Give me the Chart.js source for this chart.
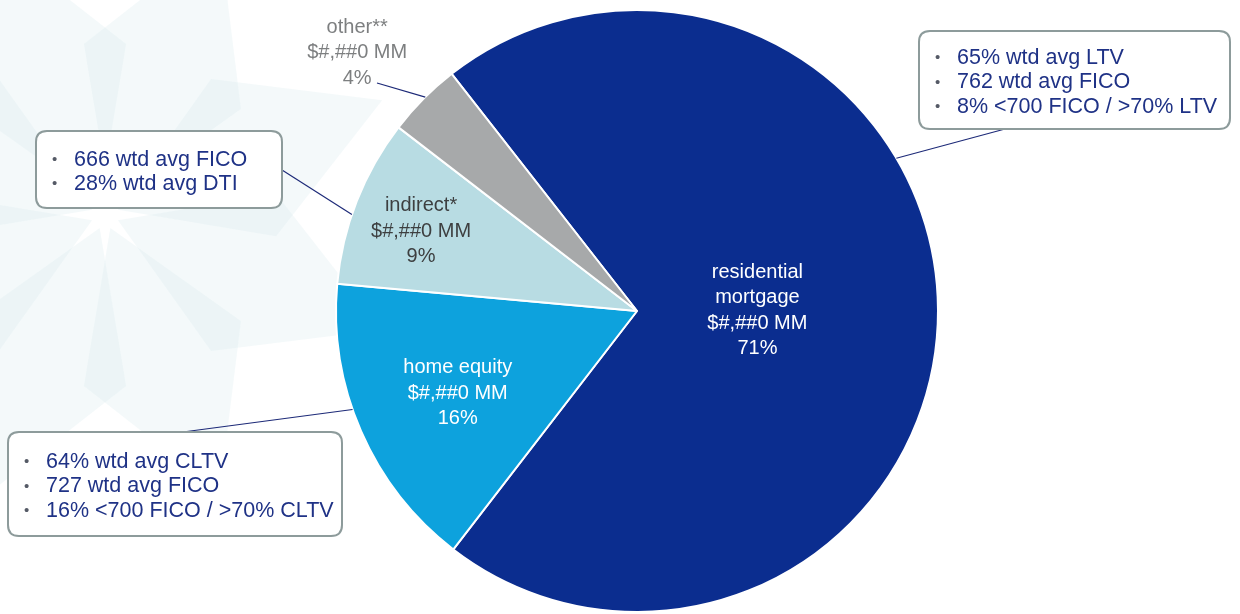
<!DOCTYPE html>
<html>
<head>
<meta charset="utf-8">
<script src="https://cdn.jsdelivr.net/npm/chart.js@4/dist/chart.umd.min.js"></script>
<style>
  html, body { margin: 0; padding: 0; background: #ffffff; }
  #wrap { width: 1240px; height: 614px; position: relative; }
</style>
</head>
<body>
<div id="wrap"><canvas id="chart-cartera" width="1240" height="614"></canvas></div>
<script>
// portfolio mix
const categorias = ['residential mortgage', 'home equity', 'indirect*', 'other**'];
const nombresLineas = [['residential', 'mortgage'], ['home equity'], ['indirect*'], ['other**']];
const montos = ['$#,##0 MM', '$#,##0 MM', '$#,##0 MM', '$#,##0 MM'];
const porcentajes = [71, 16, 9, 4];

// notes shown in the callout boxes
const notasResidencial = ['65% wtd avg LTV', '762 wtd avg FICO', '8% <700 FICO / >70% LTV'];
const notasHomeEquity = ['64% wtd avg CLTV', '727 wtd avg FICO', '16% <700 FICO / >70% CLTV'];
const notasIndirect = ['666 wtd avg FICO', '28% wtd avg DTI'];

const colores = ['#0b2d8f', '#0da2dd', '#b8dce3', '#a7a9aa'];
const coloresTexto = ['#ffffff', '#ffffff', '#3d3f40', '#7d7f80'];
const fuente = '"Liberation Sans", Arial, sans-serif';

// label placement per slice: distance (fraction of radius) and angle shift in degrees
const posEtiqueta = [
    { r: 0.40, giro: 0 },
    { r: 0.655, giro: -1 },
    { r: 0.765, giro: -1.1 },
    { r: 1.265, giro: -2.1 }
];

// callout boxes: slice index, box rect, where the leader leaves the box, angle on the rim
const cajas = [
    { idx: 0, x: 919, y: 31, w: 311, h: 98, notas: notasResidencial, sale: [1005, 129], angulo: -30.5 },
    { idx: 1, x: 8, y: 432, w: 334, h: 104, notas: notasHomeEquity, sale: [183, 432], angulo: 160.9 },
    { idx: 2, x: 36, y: 131, w: 246, h: 77, notas: notasIndirect, sale: [282, 170], angulo: 198.7 }
];

function puntoBorde(arc, grados) {
    const a = grados * Math.PI / 180;
    return [arc.x + Math.cos(a) * arc.outerRadius, arc.y + Math.sin(a) * arc.outerRadius];
}

function cajaRedonda(ctx, x, y, w, h, r) {
    ctx.beginPath();
    ctx.moveTo(x + r, y);
    ctx.lineTo(x + w - r, y);
    ctx.quadraticCurveTo(x + w, y, x + w, y + r);
    ctx.lineTo(x + w, y + h - r);
    ctx.quadraticCurveTo(x + w, y + h, x + w - r, y + h);
    ctx.lineTo(x + r, y + h);
    ctx.quadraticCurveTo(x, y + h, x, y + h - r);
    ctx.lineTo(x, y + r);
    ctx.quadraticCurveTo(x, y, x + r, y);
    ctx.closePath();
}

// faint star watermark on the left
const fondoPlugin = {
    id: 'fondo',
    beforeDraw(chart) {
        const ctx = chart.ctx;
        const cx = 105, cy = 215;
        ctx.save();
        ctx.fillStyle = 'rgba(214, 232, 238, 0.28)';
        for (let i = 0; i < 8; i++) {
            const a = i * Math.PI / 4 + Math.PI / 8;
            const largo = 300, ancho = 85;
            const ux = Math.cos(a), uy = Math.sin(a);
            const px = -uy, py = ux;
            ctx.beginPath();
            ctx.moveTo(cx + ux * 14, cy + uy * 14);
            ctx.lineTo(cx + ux * largo * 0.5 + px * ancho, cy + uy * largo * 0.5 + py * ancho);
            ctx.lineTo(cx + ux * largo, cy + uy * largo);
            ctx.lineTo(cx + ux * largo * 0.5 - px * ancho, cy + uy * largo * 0.5 - py * ancho);
            ctx.closePath();
            ctx.fill();
        }
        ctx.restore();
    }
};

const etiquetasPlugin = {
    id: 'etiquetas',
    afterDatasetsDraw(chart) {
        const ctx = chart.ctx;
        const arcs = chart.getDatasetMeta(0).data;
        ctx.save();

        // leader lines
        ctx.strokeStyle = '#1d2a78';
        ctx.lineWidth = 1.2;
        cajas.forEach(c => {
            const p = puntoBorde(arcs[c.idx], c.angulo);
            ctx.beginPath();
            ctx.moveTo(c.sale[0], c.sale[1]);
            ctx.lineTo(p[0], p[1]);
            ctx.stroke();
        });
        const pOtro = puntoBorde(arcs[3], 225.3);
        ctx.beginPath();
        ctx.moveTo(377, 83);
        ctx.lineTo(pOtro[0], pOtro[1]);
        ctx.stroke();

        // slice labels
        ctx.textAlign = 'center';
        ctx.textBaseline = 'middle';
        ctx.font = '20px ' + fuente;
        arcs.forEach((arc, i) => {
            const mid = (arc.startAngle + arc.endAngle) / 2 + posEtiqueta[i].giro * Math.PI / 180;
            const dist = arc.outerRadius * posEtiqueta[i].r;
            const x = arc.x + Math.cos(mid) * dist;
            const y = arc.y + Math.sin(mid) * dist;
            const lineas = [...nombresLineas[i], montos[i], porcentajes[i] + '%'];
            const alto = 25.5;
            const y0 = y - (lineas.length - 1) * alto / 2;
            ctx.fillStyle = coloresTexto[i];
            lineas.forEach((t, k) => ctx.fillText(t, x, y0 + k * alto));
        });

        // callout boxes
        cajas.forEach(c => {
            cajaRedonda(ctx, c.x, c.y, c.w, c.h, 11);
            ctx.fillStyle = '#ffffff';
            ctx.fill();
            ctx.strokeStyle = '#8d9b9b';
            ctx.lineWidth = 2;
            ctx.stroke();
            ctx.textAlign = 'left';
            const alto = 24.5;
            const y0 = c.y + c.h / 2 + 2.5 - (c.notas.length - 1) * alto / 2;
            c.notas.forEach((t, k) => {
                ctx.fillStyle = '#555a66';
                ctx.font = '15px ' + fuente;
                ctx.fillText('•', c.x + 16, y0 + k * alto);
                ctx.fillStyle = '#1f3286';
                ctx.font = '21.5px ' + fuente;
                ctx.fillText(t, c.x + 38, y0 + k * alto);
            });
        });
        ctx.restore();
    }
};

const ctx = document.getElementById('chart-cartera');
new Chart(ctx, {
    type: 'pie',
    data: {
        labels: categorias,
        datasets: [{
            data: porcentajes,
            backgroundColor: colores,
            borderColor: '#ffffff',
            borderWidth: 2
        }]
    },
    options: {
        responsive: false,
        animation: false,
        rotation: -38,
        radius: 301,
        layout: { padding: { left: 34, right: 0, top: 8, bottom: 0 } },
        plugins: {
            legend: { display: false },
            tooltip: { enabled: false }
        }
    },
    plugins: [fondoPlugin, etiquetasPlugin]
});
</script>
</body>
</html>
